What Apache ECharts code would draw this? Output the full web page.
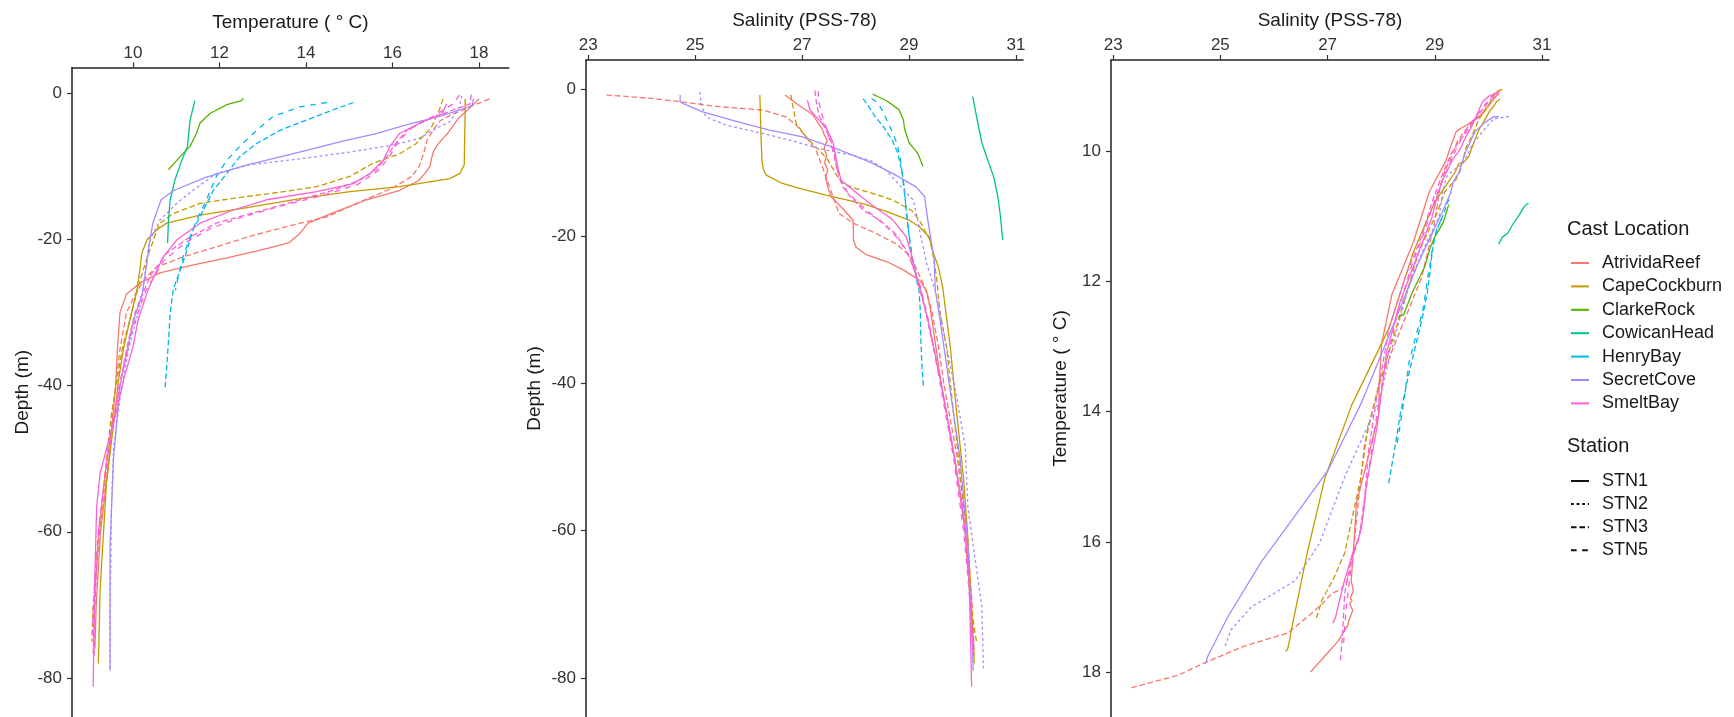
<!DOCTYPE html>
<html>
<head>
<meta charset="utf-8">
<title>CTD casts</title>
<script src="https://cdn.jsdelivr.net/npm/echarts@6/dist/echarts.min.js"></script>
<style>
  html, body { margin: 0; padding: 0; background: #fff; }
  #chart { width: 1734px; height: 717px; }
</style>
</head>
<body>
<div id="chart"></div>
<script>
// categories
var locations = ['AtrividaReef', 'CapeCockburn', 'ClarkeRock', 'CowicanHead', 'HenryBay', 'SecretCove', 'SmeltBay']
var stations = ['STN1', 'STN2', 'STN3', 'STN5']

// tick labels
var tempTicks = [10, 12, 14, 16, 18]
var salTicks = [23, 25, 27, 29, 31]
var depthTicks = [0, -20, -40, -60, -80]

// casts: depth (m), temperature (deg C), salinity (PSS-78)
var atrividaReef1Depth = [-0.8, -2, -3.5, -5.5, -6, -7, -8, -9, -10, -11, -12, -13.3, -14.6, -16.4, -17.8, -19.2, -20.5, -21.5, -22.5, -23.5, -24.6, -26, -27.5, -30, -35, -40, -50, -60, -70, -76]
var atrividaReef1Temp = [18.0, 17.8, 17.52, 17.28, 17.2, 17.05, 16.95, 16.9, 16.87, 16.75, 16.6, 16.17, 15.4, 14.62, 14.05, 13.86, 13.6, 12.95, 12.2, 11.4, 10.62, 10.16, 9.85, 9.7, 9.64, 9.6, 9.45, 9.25, 9.15, 9.12]
var atrividaReef1Sal = [26.68, 26.9, 27.2, 27.38, 27.4, 27.47, 27.41, 27.46, 27.42, 27.48, 27.44, 27.48, 27.54, 27.78, 27.95, 27.96, 27.96, 28.01, 28.2, 28.6, 28.9, 29.2, 29.33, 29.4, 29.5, 29.6, 29.85, 30.05, 30.15, 30.2]

var atrividaReef3Depth = [-0.8, -1.3, -1.7, -2.4, -2.85, -3.8, -5, -6.5, -8.3, -10, -11.4, -13, -15.1, -16.9, -18.2, -19.6, -21, -22.4, -23.8, -25.1, -27, -30, -35, -40, -50, -60, -70, -77]
var atrividaReef3Temp = [18.24, 18.05, 17.86, 17.6, 17.4, 17.1, 16.95, 16.8, 16.72, 16.62, 16.45, 16.0, 15.17, 14.5, 13.6, 12.7, 11.95, 11.16, 10.55, 10.32, 10.1, 9.85, 9.7, 9.6, 9.42, 9.22, 9.1, 9.08]
var atrividaReef3Sal = [23.34, 24.21, 24.7, 25.45, 26.26, 26.7, 26.9, 27.07, 27.26, 27.35, 27.42, 27.5, 27.6, 27.69, 27.95, 28.38, 28.75, 28.98, 29.1, 29.18, 29.3, 29.42, 29.55, 29.65, 29.9, 30.08, 30.18, 30.22]

var capeCockburn1Depth = [-0.8, -3, -6, -9.8, -11, -11.7, -12.8, -13.5, -14.4, -15.6, -16.7, -17.8, -18.7, -20.1, -22, -24.2, -27, -31, -35, -39.5, -44, -53, -61, -68, -78]
var capeCockburn1Temp = [17.68, 17.68, 17.67, 17.66, 17.56, 17.33, 16.17, 15.02, 13.9, 12.71, 11.55, 10.78, 10.55, 10.32, 10.2, 10.16, 10.09, 9.93, 9.78, 9.66, 9.58, 9.39, 9.31, 9.24, 9.2]
var capeCockburn1Sal = [26.21, 26.22, 26.23, 26.25, 26.28, 26.33, 26.62, 26.95, 27.45, 28.15, 28.6, 29.0, 29.19, 29.38, 29.44, 29.55, 29.63, 29.7, 29.77, 29.83, 29.89, 30.02, 30.1, 30.15, 30.22]

var capeCockburn3Depth = [-0.8, -2.4, -4.7, -6.9, -8.3, -9.6, -11.4, -12.8, -13.5, -14.4, -15.1, -16.5, -17.8, -19.6, -20.5, -23, -25.9, -30.5, -35, -44, -55, -65, -70, -75]
var capeCockburn3Temp = [17.17, 17.08, 16.9, 16.55, 16.17, 15.55, 15.02, 14.25, 13.48, 12.32, 11.55, 10.93, 10.62, 10.5, 10.45, 10.3, 10.15, 9.95, 9.75, 9.5, 9.3, 9.15, 9.08, 9.05]
var capeCockburn3Sal = [26.79, 26.83, 26.89, 27.12, 27.32, 27.48, 27.62, 27.75, 28.0, 28.42, 28.7, 29.05, 29.19, 29.32, 29.39, 29.46, 29.52, 29.58, 29.7, 29.83, 30.0, 30.1, 30.15, 30.26]

var clarkeRock1Depth = [-0.7, -1.05, -1.6, -2.8, -4.1, -5.5, -7.3, -8.7, -10.5]
var clarkeRock1Temp = [12.55, 12.51, 12.17, 11.78, 11.55, 11.47, 11.32, 11.09, 10.82]
var clarkeRock1Sal = [28.32, 28.42, 28.58, 28.81, 28.89, 28.92, 29.0, 29.16, 29.26]

var cowicanHead1Depth = [-1.05, -3.7, -7.3, -9.2, -11.9, -14.6, -17.4, -20.5]
var cowicanHead1Temp = [11.43, 11.32, 11.26, 11.13, 10.97, 10.86, 10.82, 10.8]
var cowicanHead1Sal = [30.19, 30.26, 30.36, 30.45, 30.58, 30.66, 30.71, 30.75]

var henryBay3Depth = [-1.3, -2.3, -3.7, -5.1, -6.9, -8.7, -11, -13.3, -16, -18.7, -22.4, -24.2, -26.9, -30.1, -34, -37.4, -40.6]
var henryBay3Temp = [15.1, 14.63, 14.02, 13.4, 12.86, 12.47, 12.17, 11.86, 11.63, 11.39, 11.2, 11.09, 10.93, 10.86, 10.82, 10.78, 10.74]
var henryBay3Sal = [28.14, 28.24, 28.36, 28.52, 28.68, 28.79, 28.86, 28.91, 28.94, 28.98, 29.04, 29.1, 29.18, 29.21, 29.22, 29.24, 29.27]

var henryBay5Depth = [-1.3, -1.9, -3.2, -5.1, -7.3, -9.2, -11.4, -14.6, -17.4, -19.7, -22.4, -25, -27]
var henryBay5Temp = [14.48, 13.86, 13.24, 12.86, 12.47, 12.17, 11.93, 11.7, 11.47, 11.32, 11.16, 11.05, 10.98]
var henryBay5Sal = [28.3, 28.42, 28.52, 28.64, 28.77, 28.83, 28.87, 28.92, 28.96, 29.0, 29.05, 29.12, 29.17]

var secretCove1Depth = [-0.8, -1.7, -1.95, -3.1, -4.4, -5.6, -6.5, -8.1, -9.9, -11.5, -13.3, -14.6, -17.8, -20.5, -23.2, -27.3, -31.4, -40, -50, -62, -70, -79]
var secretCove1Temp = [17.87, 17.85, 17.75, 17.15, 16.3, 15.6, 14.9, 13.85, 12.6, 11.7, 10.95, 10.65, 10.46, 10.38, 10.32, 10.22, 10.0, 9.7, 9.55, 9.47, 9.47, 9.47]
var secretCove1Sal = [24.72, 24.72, 24.77, 25.14, 25.77, 26.39, 27.01, 27.64, 28.26, 28.7, 29.13, 29.29, 29.35, 29.41, 29.47, 29.49, 29.58, 29.75, 29.95, 30.1, 30.15, 30.2]

var secretCove2Depth = [-0.4, -1.95, -3.8, -4.9, -6.25, -7.1, -8.1, -9, -9.8, -11, -13.3, -15.1, -17.4, -20.1, -23.7, -28.2, -35, -41.8, -48.6, -56.8, -63.6, -70.3, -78.7]
var secretCove2Temp = [17.6, 17.55, 17.35, 17.0, 16.6, 16.02, 15.0, 13.86, 12.71, 11.93, 11.39, 11.01, 10.62, 10.39, 10.3, 10.2, 9.9, 9.7, 9.55, 9.5, 9.49, 9.47, 9.47]
var secretCove2Sal = [25.09, 25.11, 25.2, 25.58, 26.39, 26.85, 27.32, 27.95, 28.3, 28.57, 28.85, 29.08, 29.15, 29.22, 29.33, 29.52, 29.7, 29.89, 30.05, 30.1, 30.23, 30.36, 30.39]

var smeltBay1Depth = [-1.5, -2.85, -4.1, -5.5, -7.3, -9.2, -11, -12.4, -13.5, -14.6, -16, -17.8, -20.1, -22.4, -25.5, -27.4, -31, -34.7, -39.3, -44, -52, -56.6, -65.7, -81.2]
var smeltBay1Temp = [17.25, 17.15, 16.64, 16.17, 15.94, 15.79, 15.48, 15.09, 14.25, 13.09, 12.32, 11.55, 11.01, 10.7, 10.45, 10.32, 10.12, 10.0, 9.78, 9.6, 9.24, 9.16, 9.12, 9.08]
var smeltBay1Sal = [27.1, 27.15, 27.3, 27.47, 27.58, 27.63, 27.68, 27.73, 27.92, 28.1, 28.35, 28.7, 28.95, 29.04, 29.14, 29.22, 29.34, 29.45, 29.58, 29.7, 29.89, 30.0, 30.12, 30.17]

var smeltBay3Depth = [-0.2, -1.5, -2.3, -3.7, -5.1, -7.3, -8.7, -10.5, -11.9, -13.3, -14.6, -16.5, -17.8, -19.7, -21.9, -25, -30, -35, -40, -50, -60, -70, -77]
var smeltBay3Temp = [17.82, 17.8, 17.41, 16.79, 16.33, 16.02, 15.87, 15.63, 15.25, 14.63, 13.86, 12.71, 11.93, 11.32, 10.78, 10.4, 10.05, 9.85, 9.7, 9.4, 9.2, 9.12, 9.1]
var smeltBay3Sal = [27.24, 27.26, 27.28, 27.32, 27.42, 27.55, 27.6, 27.64, 27.7, 27.76, 27.9, 28.15, 28.45, 28.75, 28.95, 29.12, 29.3, 29.45, 29.6, 29.85, 30.05, 30.15, 30.2]

var smeltBay5Depth = [-0.3, -1.5, -3, -4.5, -6.5, -8.5, -10.5, -12.5, -14, -15.5, -17, -18.5, -20.5, -23, -27, -32, -40, -50, -60, -68, -74]
var smeltBay5Temp = [17.55, 17.4, 17.0, 16.5, 16.15, 15.95, 15.7, 15.2, 14.4, 13.4, 12.5, 11.8, 11.2, 10.7, 10.3, 10.0, 9.68, 9.4, 9.2, 9.1, 9.06]
var smeltBay5Sal = [27.3, 27.31, 27.35, 27.42, 27.5, 27.58, 27.64, 27.72, 27.85, 28.05, 28.3, 28.55, 28.82, 29.02, 29.22, 29.38, 29.58, 29.83, 30.02, 30.12, 30.18]

var casts = [
  { loc: 'AtrividaReef', stn: 'STN1', depth: atrividaReef1Depth, temp: atrividaReef1Temp, sal: atrividaReef1Sal },
  { loc: 'AtrividaReef', stn: 'STN3', depth: atrividaReef3Depth, temp: atrividaReef3Temp, sal: atrividaReef3Sal },
  { loc: 'CapeCockburn', stn: 'STN1', depth: capeCockburn1Depth, temp: capeCockburn1Temp, sal: capeCockburn1Sal },
  { loc: 'CapeCockburn', stn: 'STN3', depth: capeCockburn3Depth, temp: capeCockburn3Temp, sal: capeCockburn3Sal },
  { loc: 'ClarkeRock', stn: 'STN1', depth: clarkeRock1Depth, temp: clarkeRock1Temp, sal: clarkeRock1Sal },
  { loc: 'CowicanHead', stn: 'STN1', depth: cowicanHead1Depth, temp: cowicanHead1Temp, sal: cowicanHead1Sal },
  { loc: 'HenryBay', stn: 'STN3', depth: henryBay3Depth, temp: henryBay3Temp, sal: henryBay3Sal },
  { loc: 'HenryBay', stn: 'STN5', depth: henryBay5Depth, temp: henryBay5Temp, sal: henryBay5Sal },
  { loc: 'SecretCove', stn: 'STN1', depth: secretCove1Depth, temp: secretCove1Temp, sal: secretCove1Sal },
  { loc: 'SecretCove', stn: 'STN2', depth: secretCove2Depth, temp: secretCove2Temp, sal: secretCove2Sal },
  { loc: 'SmeltBay', stn: 'STN1', depth: smeltBay1Depth, temp: smeltBay1Temp, sal: smeltBay1Sal },
  { loc: 'SmeltBay', stn: 'STN3', depth: smeltBay3Depth, temp: smeltBay3Temp, sal: smeltBay3Sal },
  { loc: 'SmeltBay', stn: 'STN5', depth: smeltBay5Depth, temp: smeltBay5Temp, sal: smeltBay5Sal }
]

// styles
var locColors = ['#F8766D', '#C49A00', '#53B400', '#00C094', '#00B6EB', '#A58AFF', '#FB61D7']
var stnDash = ['solid', [2.8, 2.8], [5.6, 2.8], [5.6, 5.6]]
var font = 'Liberation Sans, Arial, Helvetica, sans-serif'
var lineW = 1.3

function zip (a, b) {
  return a.map(function (v, i) { return [v, b[i]] })
}

function xAxisTop (grid, min, max, name, ticks, gap) {
  return {
    gridIndex: grid,
    type: 'value',
    position: 'top',
    min: min,
    max: max,
    name: name,
    nameLocation: 'middle',
    nameGap: gap,
    nameTextStyle: { fontSize: 19, color: '#1a1a1a', fontFamily: font },
    splitLine: { show: false },
    axisLine: { show: true, onZero: false, lineStyle: { color: '#222', width: 1.5 } },
    axisTick: { show: true, length: 5, customValues: ticks, lineStyle: { color: '#333', width: 1.2 } },
    axisLabel: { customValues: ticks, margin: 6, fontSize: 17, color: '#333', fontFamily: font }
  }
}

function yAxisLeft (grid, min, max, name, ticks, gap, inverse) {
  return {
    gridIndex: grid,
    type: 'value',
    position: 'left',
    inverse: !!inverse,
    min: min,
    max: max,
    name: name,
    nameLocation: 'middle',
    nameGap: gap,
    nameRotate: 90,
    nameTextStyle: { fontSize: 19, color: '#1a1a1a', fontFamily: font },
    splitLine: { show: false },
    axisLine: { show: true, onZero: false, lineStyle: { color: '#222', width: 1.5 } },
    axisTick: { show: true, length: 5, customValues: ticks, lineStyle: { color: '#333', width: 1.2 } },
    axisLabel: { customValues: ticks, margin: 10, fontSize: 17, color: '#333', fontFamily: font }
  }
}

var series = []
casts.forEach(function (c) {
  var color = locColors[locations.indexOf(c.loc)]
  var dash = stnDash[stations.indexOf(c.stn)]
  var panels = [
    { x: 0, data: zip(c.temp, c.depth) },
    { x: 1, data: zip(c.sal, c.depth) },
    { x: 2, data: zip(c.sal, c.temp) }
  ]
  panels.forEach(function (p) {
    series.push({
      name: c.loc + ' ' + c.stn,
      type: 'line',
      xAxisIndex: p.x,
      yAxisIndex: p.x,
      data: p.data,
      symbol: 'none',
      silent: true,
      lineStyle: { color: color, width: lineW, type: dash },
      itemStyle: { color: color }
    })
  })
})

// legend keys (empty series, only drawn in the legends)
locations.forEach(function (loc, i) {
  series.push({
    name: loc, type: 'line', xAxisIndex: 0, yAxisIndex: 0, data: [],
    symbol: 'circle', symbolSize: 0,
    lineStyle: { color: locColors[i], width: 1.5, type: 'solid' }, itemStyle: { color: locColors[i] }
  })
})
stations.forEach(function (stn, i) {
  series.push({
    name: stn, type: 'line', xAxisIndex: 0, yAxisIndex: 0, data: [],
    symbol: 'circle', symbolSize: 0,
    lineStyle: { color: '#111', width: 1.5, type: stnDash[i] }, itemStyle: { color: '#111' }
  })
})

var legendText = { fontSize: 18, color: '#1a1a1a', fontFamily: font, padding: [0, 0, 0, 8] }

var option = {
  animation: false,
  backgroundColor: '#fff',
  title: [
    { text: 'Cast Location', left: 1567, top: 219, padding: 0, textStyle: { fontSize: 20, fontWeight: 'normal', color: '#1a1a1a', fontFamily: font } },
    { text: 'Station', left: 1567, top: 436, padding: 0, textStyle: { fontSize: 20, fontWeight: 'normal', color: '#1a1a1a', fontFamily: font } }
  ],
  legend: [
    {
      data: locations, orient: 'vertical', left: 1570, top: 254, padding: 0,
      itemWidth: 18, itemHeight: 14, itemGap: 5.4, selectedMode: false,
      itemStyle: { opacity: 0 }, textStyle: legendText
    },
    {
      data: stations, orient: 'vertical', left: 1570, top: 472, padding: 0,
      itemWidth: 18, itemHeight: 14, itemGap: 5.1, selectedMode: false,
      itemStyle: { opacity: 0 }, textStyle: legendText
    }
  ],
  grid: [
    { left: 72, top: 67.4, width: 436.8, height: 649.6 },
    { left: 586, top: 60, width: 437, height: 657 },
    { left: 1111, top: 60, width: 438, height: 657 }
  ],
  xAxis: [
    xAxisTop(0, 8.59, 18.69, 'Temperature ( \u00b0 C)', tempTicks, 35),
    xAxisTop(1, 22.96, 31.13, 'Salinity (PSS-78)', salTicks, 30),
    xAxisTop(2, 22.96, 31.13, 'Salinity (PSS-78)', salTicks, 30)
  ],
  yAxis: [
    yAxisLeft(0, -85.33, 3.5, 'Depth (m)', depthTicks, 40),
    yAxisLeft(1, -85.3, 3.94, 'Depth (m)', depthTicks, 42),
    yAxisLeft(2, 8.6, 18.69, 'Temperature ( \u00b0 C)', tempTicks, 41, true)
  ],
  series: series
}

var chart = echarts.init(document.getElementById('chart'), null, { renderer: 'canvas' })
chart.setOption(option)
</script>
</body>
</html>
